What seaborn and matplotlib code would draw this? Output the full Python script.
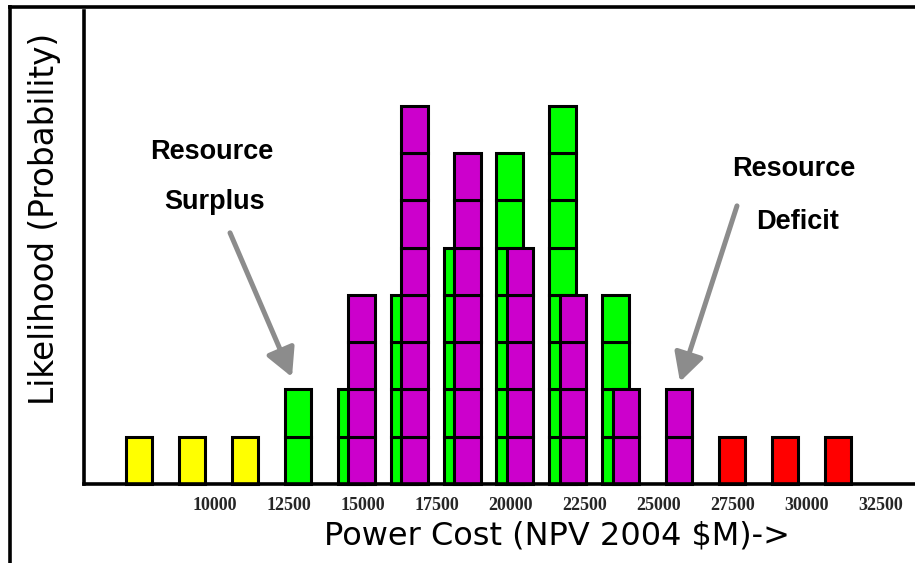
import matplotlib
matplotlib.use("Agg")
import matplotlib.pyplot as plt
from matplotlib.lines import Line2D
import seaborn as sns
import pandas as pd

# Cost bins ($M, NPV 2004) and number of scenario outcomes per bin
cost_bins = [7420, 9210, 11000, 12790, 14580, 16370, 18160,
             19950, 21740, 23530, 25320, 27110, 28900, 30690]
portfolio_a_counts = [1, 1, 1, 2, 2, 4, 5, 7, 8, 4, 0, 0, 0, 0]
portfolio_b_counts = [0, 0, 0, 0, 4, 8, 7, 5, 4, 2, 2, 1, 1, 1]

tick_values = [10000, 12500, 15000, 17500, 20000, 22500, 25000, 27500, 30000, 32500]
tick_labels = ["10000", "12500", "15000", "17500", "20000",
               "22500", "25000", "27500", "30000", "32500"]

surplus_limit = 12000   # outcomes below this cost: resource surplus
deficit_limit = 27000   # outcomes above this cost: resource deficit

sns.set_theme(style="white")
plt.rcParams["font.family"] = ["DejaVu Sans"]

# one row per stacked unit box
rows = []
for series, counts, shift in (("A", portfolio_a_counts, 0), ("B", portfolio_b_counts, 370)):
    for cost, n in zip(cost_bins, counts):
        for level in range(n):
            x = cost + shift
            if x < surplus_limit:
                color = "#FFFF00"
            elif x > deficit_limit:
                color = "#FF0000"
            elif series == "A":
                color = "#00FF00"
            else:
                color = "#CC00CC"
            rows.append({"series": series, "cost": x, "level": level, "color": color})
boxes = pd.DataFrame(rows)

fig = plt.figure(figsize=(9.15, 5.63), dpi=100)
ax = fig.add_axes([84 / 915, 1 - 484 / 563, 1 - 84 / 915, (484 - 11) / 563])

for series in ("A", "B"):
    sub = boxes[boxes["series"] == series]
    ax.bar(sub["cost"], 1, bottom=sub["level"], width=880, color=sub["color"],
           edgecolor="black", linewidth=2.2, zorder=2 if series == "A" else 3,
           clip_on=False)

ax.set_xlim(5574, 33649)
ax.set_ylim(0, 10)
ax.set_yticks([])
ax.set_xticks(tick_values)
ax.set_xticklabels(tick_labels, family="Liberation Serif", fontweight="bold", fontsize=13)
ax.tick_params(axis="x", length=0, pad=9)

for side in ("top", "right"):
    ax.spines[side].set_visible(False)
for side in ("left", "bottom"):
    ax.spines[side].set_linewidth(2.6)
    ax.spines[side].set_color("black")
    ax.spines[side].set_zorder(5)

ax.set_xlabel("Power Cost (NPV 2004 $M)->", fontsize=23, color="black")
ax.xaxis.set_label_coords(0.569, -0.110)
ax.xaxis.label.set_va("center")
ax.set_ylabel("Likelihood (Probability)", fontsize=23.5, color="black")
ax.yaxis.set_label_coords(-0.047, 0.560)
ax.yaxis.label.set_va("center")

note_font = dict(family="Liberation Sans", fontweight="bold", fontsize=19.5,
                 ha="center", va="center", color="black")
ax.text(9900, 7.02, "Resource", **note_font)
ax.text(10000, 5.96, "Surplus", **note_font)
ax.text(29561, 6.66, "Resource", **note_font)
ax.text(29696, 5.54, "Deficit", **note_font)

arrow = dict(arrowstyle="-|>,head_length=0.85,head_width=0.45", color="#8C8C8C",
             lw=3.6, mutation_scale=20, shrinkA=0, shrinkB=0)
ax.annotate("", xy=(12601, 2.26), xytext=(10507, 5.31), arrowprops=arrow,
            annotation_clip=False)
ax.annotate("", xy=(25709, 2.16), xytext=(27635, 5.88), arrowprops=arrow,
            annotation_clip=False)

# outer frame lines
fig.add_artist(Line2D([8 / 915, 1], [1 - 6.5 / 563] * 2, transform=fig.transFigure,
                      color="black", lw=2.6, solid_capstyle="butt"))
fig.add_artist(Line2D([9.5 / 915] * 2, [0, 1 - 5 / 563], transform=fig.transFigure,
                      color="black", lw=2.6, solid_capstyle="butt"))

fig.savefig("out.png", dpi=100)
